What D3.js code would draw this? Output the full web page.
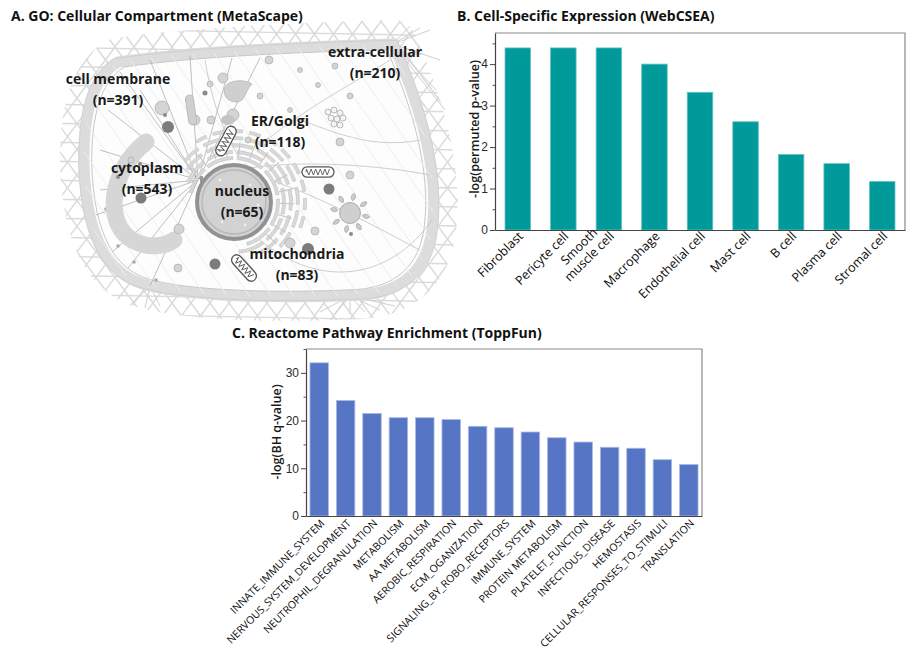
<!DOCTYPE html>
<html>
<head>
<meta charset="utf-8">
<script src="https://d3js.org/d3.v7.min.js"></script>
<style>
  html, body { margin: 0; padding: 0; background: #fff; }
  svg { display: block; font-family: "Open Sans", "DejaVu Sans", sans-serif; }
  .title { font-size: 14px; font-weight: 700; fill: #111; }
  .tick text { fill: #2a2a2a; }
  .ylab { font-size: 12.5px; font-weight: 600; fill: #1a1a1a; }
  .clab { font-size: 14px; font-weight: 700; fill: #1a1a1a; }
</style>
</head>
<body>
<svg id="fig" width="907" height="655"></svg>
<script>
"use strict";

// Panel A: GO cellular compartment counts
const compartments = ["cell membrane", "extra-cellular", "ER/Golgi", "cytoplasm", "nucleus", "mitochondria"];
const compartmentCounts = [391, 210, 118, 543, 65, 83];

// Panel B: WebCSEA cell-type enrichment
const cellTypes = ["Fibroblast", "Pericyte cell", "Smooth\nmuscle cell", "Macrophage", "Endothelial cell",
  "Mast cell", "B cell", "Plasma cell", "Stromal cell"];
const cellScores = [4.39, 4.39, 4.39, 4.0, 3.32, 2.61, 1.82, 1.60, 1.17];
const cellTicks = [0, 1, 2, 3, 4];

// Panel C: Reactome pathways (ToppFun)
const pathways = ["INNATE_IMMUNE_SYSTEM", "NERVOUS_SYSTEM_DEVELOPMENT", "NEUTROPHIL_DEGRANULATION", "METABOLISM",
  "AA METABOLISM", "AEROBIC_RESPIRATION", "ECM_OGANIZATION", "SIGNALING_BY_ROBO_RECEPTORS", "IMMUNE_SYSTEM",
  "PROTEIN METABOLISM", "PLATELET_FUNCTION", "INFECTIOUS_DISEASE", "HEMOSTASIS",
  "CELLULAR_RESPONSES_TO_STIMULI", "TRANSLATION"];
const pathwayScores = [32.1, 24.2, 21.5, 20.6, 20.6, 20.2, 18.8, 18.5, 17.6, 16.4, 15.5, 14.4, 14.2, 11.8, 10.8];
const pathwayTicks = [0, 10, 20, 30];

const svg = d3.select("#fig");

// ---------- titles ----------
svg.append("text").attr("class", "title").attr("x", 11).attr("y", 21).text("A. GO: Cellular Compartment (MetaScape)");
svg.append("text").attr("class", "title").attr("x", 457).attr("y", 21).text("B. Cell-Specific Expression (WebCSEA)");
svg.append("text").attr("class", "title").attr("x", 232).attr("y", 338).text("C. Reactome Pathway Enrichment (ToppFun)");

// ---------- shared bar chart ----------
function barChart(opt) {
  const g = svg.append("g");
  const x = d3.scaleBand().domain(opt.labels).range([opt.left, opt.right]).paddingInner(opt.pad).paddingOuter(opt.pad / 2);
  const y = d3.scaleLinear().domain([0, opt.ymax]).range([opt.bottom, opt.top]);

  // frame top/right
  g.append("path")
    .attr("d", `M${opt.left},${opt.top}H${opt.right}V${opt.bottom}`)
    .attr("fill", "none").attr("stroke", "#8a8a8a").attr("stroke-width", 1.2);

  g.selectAll("rect.bar").data(opt.values).join("rect")
    .attr("class", "bar")
    .attr("x", (d, i) => x(opt.labels[i]))
    .attr("width", x.bandwidth())
    .attr("y", (d) => y(d))
    .attr("height", (d) => y(0) - y(d))
    .attr("fill", opt.color)
    .attr("stroke", opt.edge).attr("stroke-width", 0.8);

  // minor ticks
  const minor = g.append("g").attr("transform", `translate(${opt.left},0)`)
    .call(d3.axisLeft(y).tickValues(opt.minor).tickSize(2.5).tickFormat(""));
  minor.select(".domain").remove();
  minor.selectAll("line").attr("stroke", "#555");

  const ya = g.append("g").attr("transform", `translate(${opt.left},0)`)
    .call(d3.axisLeft(y).tickValues(opt.ticks).tickSize(5).tickSizeOuter(0).tickPadding(2).tickFormat(d3.format("d")));
  ya.select(".domain").attr("stroke", "#444").attr("stroke-width", 1.2);
  ya.selectAll("line").attr("stroke", "#444");
  ya.selectAll("text").style("font-size", opt.tickFont + "px").attr("font-family", null);

  const xa = g.append("g").attr("transform", `translate(0,${opt.bottom})`)
    .call(d3.axisBottom(x).tickSize(0).tickSizeOuter(0).tickFormat(""));
  xa.select(".domain").attr("stroke", "#444").attr("stroke-width", 1.2);

  // rotated category labels
  opt.labels.forEach((lab) => {
    const cx = x(lab) + x.bandwidth() / 2;
    const lg = g.append("g")
      .attr("transform", `translate(${cx + opt.ldx},${opt.bottom + opt.ldy}) rotate(-45)`)
      .style("font-size", opt.labFont + "px").attr("fill", "#0a0a0a");
    const lines = lab.split("\n");
    if (lines.length === 1) {
      lg.append("text").attr("text-anchor", "end").text(lab);
    } else {
      const probe = lg.append("text").text(lines[lines.length - 1]);
      const w = probe.node().getComputedTextLength();
      probe.remove();
      lines.forEach((ln, i) => {
        lg.append("text").attr("text-anchor", "middle")
          .attr("x", -w / 2).attr("y", (i - (lines.length - 1)) * opt.labFont * 1.15)
          .text(ln);
      });
    }
  });

  svg.append("text").attr("class", "ylab")
    .attr("transform", `translate(${opt.ylabX},${opt.ylabY}) rotate(-90)`)
    .attr("text-anchor", "middle").text(opt.ylab);
}

barChart({
  labels: cellTypes, values: cellScores, ticks: cellTicks,
  minor: [0.5, 1.5, 2.5, 3.5, 4.5],
  left: 495, right: 905, top: 33, bottom: 230, ymax: 4.75, pad: 0.44,
  color: "#009a9a", edge: "#66c2c2", tickFont: 12, labFont: 12.5, ldx: 6, ldy: 7,
  ylab: "-log(permuted p-value)", ylabX: 479, ylabY: 129
});

barChart({
  labels: pathways, values: pathwayScores, ticks: pathwayTicks,
  minor: [5, 15, 25, 35],
  left: 306, right: 702, top: 349, bottom: 516, ymax: 35, pad: 0.3,
  color: "#5675c5", edge: "#a9b9e6", tickFont: 12, labFont: 10.5, ldx: 6, ldy: 8,
  ylab: "-log(BH q-value)", ylabX: 281, ylabY: 432
});

// ---------- panel A: cell sketch ----------
const A = svg.append("g");
const cellPath = "M118,62 C200,50 320,46 393,44 C418,100 440,170 432,230 C427,270 402,292 362,295 " +
  "C282,299 182,297 140,283 C100,269 86,222 84,166 C83,112 94,76 118,62 Z";

const defs = svg.append("defs");
const mask = defs.append("mask").attr("id", "meshMask");
mask.append("path").attr("d", cellPath).attr("fill", "#fff").attr("stroke", "#fff").attr("stroke-width", 48)
  .attr("stroke-linejoin", "round");
defs.append("clipPath").attr("id", "cellClip").append("path").attr("d", cellPath);

// extracellular mesh
const mesh = A.append("g").attr("mask", "url(#meshMask)").attr("stroke", "#dadada").attr("stroke-width", 1.4).attr("fill", "none");
for (let k = -30; k < 50; k++) {
  const o = k * 19;
  mesh.append("line").attr("x1", o).attr("y1", 20).attr("x2", o + 230).attr("y2", 330);
  mesh.append("line").attr("x1", o + 230).attr("y1", 20).attr("x2", o).attr("y2", 330);
}
for (let k = 0; k < 16; k++) {
  mesh.append("line").attr("x1", 40).attr("y1", 28 + k * 19).attr("x2", 460).attr("y2", 36 + k * 19);
}
// fibre fans at corners
const fans = [[393, 44, [[430, 30], [440, 60], [436, 90], [420, 28], [445, 110], [410, 26]]],
  [350, 296, [[320, 312], [335, 314], [350, 314], [365, 312], [380, 310], [395, 306]]],
  [150, 286, [[130, 305], [145, 308], [160, 306]]]];
fans.forEach(([fx, fy, ends]) => ends.forEach(([ex, ey]) =>
  A.append("line").attr("x1", fx).attr("y1", fy).attr("x2", ex).attr("y2", ey).attr("stroke", "#cfcfcf").attr("stroke-width", 1)));

// cell body + membrane
A.append("path").attr("d", cellPath).attr("fill", "#fdfdfd").attr("stroke", "#dcdcdc").attr("stroke-width", 11);
A.append("path").attr("d", cellPath).attr("fill", "none").attr("stroke", "#c4c4c4").attr("stroke-width", 1)
  .attr("transform", "translate(258,172) scale(0.955) translate(-258,-172)");
A.append("path").attr("d", cellPath).attr("fill", "none").attr("stroke", "#cdcdcd").attr("stroke-width", 0.8)
  .attr("transform", "translate(258,172) scale(1.03) translate(-258,-172)");

const inside = A.append("g").attr("clip-path", "url(#cellClip)");

// faint inner texture lines
const tex = inside.append("g").attr("stroke", "#ededed").attr("stroke-width", 1).attr("fill", "none");
for (let k = -20; k < 40; k++) {
  const o = k * 22;
  tex.append("line").attr("x1", o).attr("y1", 30).attr("x2", o + 200).attr("y2", 320);
}

// cytoskeleton from centrosome
const cs = [198, 180];
const spokes = [[120, 72], [150, 60], [190, 56], [232, 58], [108, 110], [100, 150], [96, 215], [112, 252],
  [128, 268], [150, 286], [100, 190], [260, 58], [140, 90]];
const cyto = inside.append("g").attr("stroke", "#b0b0b0").attr("stroke-width", 0.8).attr("fill", "none");
spokes.forEach(([ex, ey]) => cyto.append("line").attr("x1", cs[0]).attr("y1", cs[1]).attr("x2", ex).attr("y2", ey));
[[112, 252], [128, 268], [100, 215], [150, 286]].forEach(([ex, ey]) =>
  inside.append("circle").attr("cx", ex + 6).attr("cy", ey - 6).attr("r", 1.8).attr("fill", "#aaa"));
// long microtubules to the right
const curves = ["M250,168 C300,160 380,165 430,175", "M260,240 C320,290 390,280 432,220",
  "M205,60 C215,120 230,140 240,160", "M270,180 C330,200 400,240 420,250", "M255,150 C300,110 360,80 390,60",
  "M300,120 C330,130 370,150 420,140"];
curves.forEach((d) => cyto.append("path").attr("d", d).attr("stroke", "#c2c2c2"));
inside.append("path").attr("d", "M195,176 h8 v6 h-3 v-3 h-5 Z").attr("fill", "#999");

// big crescent
inside.append("path").attr("d", "M146,142 C108,172 104,226 134,241 C150,249 166,246 174,240")
  .attr("fill", "none").attr("stroke", "#d6d6d6").attr("stroke-width", 17).attr("stroke-linecap", "round");

// ER around nucleus
const nuc = [234, 202];
const er = inside.append("g").attr("transform", `translate(${nuc[0]},${nuc[1]})`).attr("fill", "#dadada").attr("stroke", "#bdbdbd").attr("stroke-width", 0.6);
const erRings = [[44, -1.4, 2.9], [50, -1.2, 3.1], [57, -1.0, 2.7], [64, -0.9, 2.4], [71, -0.6, 2.0]];
erRings.forEach(([r, a0, a1], j) => {
  const n = 6 + j;
  const step = (a1 - a0) / n;
  for (let i = 0; i < n; i++) {
    const arc = d3.arc().innerRadius(r - 1.5).outerRadius(r + 1.5)
      .startAngle(a0 + i * step + 0.04).endAngle(a0 + (i + 1) * step - 0.06);
    er.append("path").attr("d", arc());
  }
});
// short radial cisternae
for (let i = 0; i < 14; i++) {
  const a = -0.9 + i * 0.25;
  er.append("line").attr("x1", 46 * Math.sin(a)).attr("y1", -46 * Math.cos(a))
    .attr("x2", 60 * Math.sin(a)).attr("y2", -60 * Math.cos(a)).attr("stroke", "#c8c8c8").attr("stroke-width", 1.2);
}

// nucleus
inside.append("circle").attr("cx", nuc[0]).attr("cy", nuc[1]).attr("r", 37).attr("fill", "#d2d2d2")
  .attr("stroke", "#929292").attr("stroke-width", 4);
inside.append("circle").attr("cx", nuc[0]).attr("cy", nuc[1]).attr("r", 32).attr("fill", "none")
  .attr("stroke", "#b8b8b8").attr("stroke-width", 1.5);
[[220, 180], [250, 185], [245, 225], [222, 222], [258, 205]].forEach(([px, py]) =>
  inside.append("circle").attr("cx", px).attr("cy", py).attr("r", 1.4).attr("fill", "#eee"));

// vesicles
const lightVes = [[223, 78, 5], [195, 120, 5], [210, 84, 3], [162, 108, 7], [188, 100, 2.5], [233, 115, 6],
  [269, 60, 4], [248, 140, 3], [211, 120, 4], [260, 96, 3], [300, 70, 2.5], [318, 85, 2.5], [335, 66, 3],
  [340, 142, 4], [350, 175, 4], [179, 229, 5], [178, 268, 4], [290, 243, 5], [315, 231, 4],
  [350, 96, 3], [290, 110, 2.5], [131, 160, 3]];
lightVes.forEach(([vx, vy, r]) => inside.append("circle").attr("cx", vx).attr("cy", vy).attr("r", r)
  .attr("fill", "#d4d4d4").attr("stroke", "#ababab").attr("stroke-width", 0.7));
const darkVes = [[168, 127, 6], [329, 189, 5.5], [215, 264, 5.5], [141, 198, 5.5], [308, 249, 6]];
darkVes.forEach(([vx, vy, r]) => inside.append("circle").attr("cx", vx).attr("cy", vy).attr("r", r).attr("fill", "#7c7c7c"));
[[165, 115, 2], [205, 93, 2.5], [351, 234, 2], [118, 177, 2], [140, 164, 2]].forEach(([vx, vy, r]) =>
  inside.append("circle").attr("cx", vx).attr("cy", vy).attr("r", r).attr("fill", "#8a8a8a"));
// vesicle cluster
[[328, 112], [334, 110], [340, 113], [331, 118], [337, 119], [343, 118], [334, 124], [340, 125]].forEach(([vx, vy]) =>
  inside.append("circle").attr("cx", vx).attr("cy", vy).attr("r", 3).attr("fill", "#f4f4f4").attr("stroke", "#a0a0a0").attr("stroke-width", 0.7));
// rod & teardrop
inside.append("rect").attr("x", 187).attr("y", 95).attr("width", 8).attr("height", 30).attr("rx", 4)
  .attr("fill", "#cfcfcf").attr("stroke", "#aaa").attr("stroke-width", 0.6).attr("transform", "rotate(-8,191,110)");
inside.append("path").attr("d", "M232,82 C220,84 222,102 236,102 C246,102 244,92 252,84 C246,80 238,80 232,82 Z")
  .attr("fill", "#cfcfcf").attr("stroke", "#aaa").attr("stroke-width", 0.6);
inside.append("ellipse").attr("cx", 228).attr("cy", 120).attr("rx", 7).attr("ry", 5).attr("fill", "#c4c4c4");

// peroxisome with detached spikes
const sun = inside.append("g").attr("transform", "translate(350,213)");
for (let i = 0; i < 8; i++) {
  const a = i * 45 + 12;
  sun.append("path").attr("d", "M0,-12.5 C-3,-15 -2.5,-18 0,-20 C2.5,-18 3,-15 0,-12.5 Z").attr("transform", `rotate(${a})`)
    .attr("fill", "#cccccc").attr("stroke", "#9a9a9a").attr("stroke-width", 0.6);
}
sun.append("circle").attr("r", 10.5).attr("fill", "#cfcfcf").attr("stroke", "#a0a0a0").attr("stroke-width", 0.8);

// mitochondria
function mito(mx, my, ang) {
  const m = inside.append("g").attr("transform", `translate(${mx},${my}) rotate(${ang})`);
  m.append("rect").attr("x", -16).attr("y", -5.2).attr("width", 32).attr("height", 10.4).attr("rx", 5.2)
    .attr("fill", "#fff").attr("stroke", "#555").attr("stroke-width", 1.3);
  const zz = d3.path();
  zz.moveTo(-12, 0);
  for (let i = 0; i < 11; i++) zz.lineTo(-11.5 + i * 2.3, i % 2 ? 3 : -3);
  m.append("path").attr("d", zz.toString()).attr("fill", "none").attr("stroke", "#555").attr("stroke-width", 0.9);
}
mito(226, 141, -62);
mito(318, 172, 0);
mito(244, 268, 48);

// compartment labels
const labelPos = [[118, 84], [375, 57], [280, 126], [147, 173], [242, 196], [297, 259]];
compartments.forEach((name, i) => {
  const [lx, ly] = labelPos[i];
  A.append("text").attr("class", "clab").attr("x", lx).attr("y", ly).attr("text-anchor", "middle").text(name);
  A.append("text").attr("class", "clab").attr("x", lx).attr("y", ly + 21).attr("text-anchor", "middle")
    .text(`(n=${compartmentCounts[i]})`);
});
</script>
</body>
</html>
